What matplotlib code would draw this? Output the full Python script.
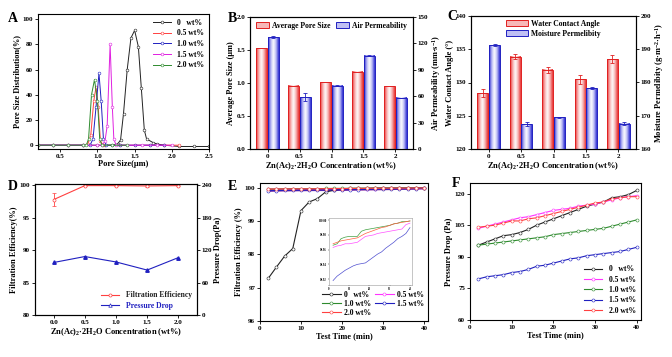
import numpy as np
import matplotlib
matplotlib.use("Agg")
import matplotlib.pyplot as plt
from matplotlib.colors import LinearSegmentedColormap
from matplotlib.patches import Rectangle, Patch

plt.rcParams['font.family'] = ['Liberation Serif', 'DejaVu Serif']
plt.rcParams['font.weight'] = 'bold'
plt.rcParams['axes.labelweight'] = 'bold'
plt.rcParams['font.size'] = 5
plt.rcParams['axes.linewidth'] = 0.8
plt.rcParams['mathtext.default'] = 'regular'

# ---------------- data ----------------
# A: pore size distribution
a0_x = [0.2, 0.4, 0.6, 0.8, 1.0, 1.1, 1.2, 1.27, 1.31, 1.35, 1.4, 1.45, 1.5, 1.55, 1.59, 1.63, 1.66, 1.75, 1.8, 1.9, 2.1, 2.3, 2.5]
a0_y = [0, 0, 0, 0, 0, 0, 0, 1, 4, 25, 60, 85, 91, 78, 45, 12, 5, 2, 1, 0, -1, -1, -1]
a05_x = [0.2, 0.4, 0.6, 0.8, 0.87, 0.91, 0.95, 0.98, 1.01, 1.04, 1.08, 1.3, 1.5, 1.7, 1.9, 2.1]
a05_y = [0, 0, 0, 0, 1, 8, 35, 46, 30, 3, 0, 0, 0, 0, 0, 0]
a10_x = [0.2, 0.4, 0.6, 0.8, 0.9, 0.94, 0.98, 1.02, 1.05, 1.08, 1.12, 1.3, 1.5, 1.7, 1.9]
a10_y = [0, 0, 0, 0, 0, 5, 30, 57, 35, 5, 0, 0, 0, 0, 0]
a15_x = [0.2, 0.4, 0.6, 0.8, 1.0, 1.06, 1.1, 1.13, 1.17, 1.2, 1.22, 1.25, 1.4, 1.6, 1.8, 2.0]
a15_y = [0, 0, 0, 0, 0, 0, 3, 15, 80, 30, 5, 0, 0, 0, 0, 0]
a20_x = [0.2, 0.4, 0.6, 0.8, 0.85, 0.88, 0.92, 0.96, 1.0, 1.03, 1.06, 1.2, 1.4]
a20_y = [0, 0, 0, 0, 0, 5, 40, 52, 35, 5, 0, 0, 0]

# B / C categories
conc_labels = ['0', '0.5', '1', '1.5', '2']
pore_size = [1.53, 0.96, 1.01, 1.17, 0.95]
air_perm = [127, 59, 72, 106, 58]
air_err = [1, 5, 0.8, 0.5, 0.5]
wca = [128.4, 133.9, 131.9, 130.5, 133.5]
wca_err = [0.6, 0.4, 0.4, 0.7, 0.6]
moist = [191.2, 167.5, 169.5, 178.2, 167.6]
moist_err = [0.3, 0.5, 0.2, 0.3, 0.4]

# D
d_x = [0.0, 0.5, 1.0, 1.5, 2.0]
filt_eff = [97.8, 99.95, 99.95, 99.9, 99.95]
filt_err = [1.0, 0.1, 0.1, 0.1, 0.1]
p_drop = [97, 108, 98, 83, 106]

# E / F time
t = [2, 4, 6, 8, 10, 12, 14, 16, 18, 20, 22, 24, 26, 28, 30, 32, 34, 36, 38, 40]
e0 = [97.28, 97.62, 97.95, 98.18, 99.32, 99.58, 99.68, 99.88, 99.93, 99.97, 99.99, 99.99, 99.99, 100.0, 100.0, 100.0, 100.0, 100.0, 100.0, 100.0]
e05 = [99.963, 99.965, 99.966, 99.968, 99.968, 99.969, 99.970, 99.974, 99.978, 99.979, 99.980, 99.982, 99.983, 99.984, 99.985, 99.986, 99.987, 99.988, 99.994, 99.996]
e10 = [99.966, 99.968, 99.975, 99.977, 99.978, 99.978, 99.978, 99.985, 99.987, 99.988, 99.989, 99.990, 99.991, 99.992, 99.993, 99.995, 99.996, 99.998, 99.998, 99.999]
e15 = [99.918, 99.924, 99.928, 99.932, 99.935, 99.938, 99.940, 99.941, 99.942, 99.946, 99.950, 99.954, 99.957, 99.962, 99.966, 99.970, 99.975, 99.978, 99.982, 99.990]
e20 = [99.968, 99.970, 99.972, 99.973, 99.974, 99.975, 99.976, 99.979, 99.982, 99.984, 99.986, 99.988, 99.990, 99.991, 99.993, 99.995, 99.996, 99.997, 99.998, 99.999]

f0 = [95.5, 97, 98.5, 100, 100.5, 101.5, 103, 105, 106.5, 108, 109.5, 111, 112.5, 114, 115, 116, 118, 118.5, 119.5, 121.5]
f05 = [103.5, 104.5, 105.5, 106.5, 107.5, 108.5, 109, 110, 111, 112, 112.5, 113, 114, 114.5, 115, 116, 117, 118, 118.5, 119]
f10 = [95.5, 96, 96.5, 97, 97.5, 98, 98.5, 99, 99.5, 100.5, 101, 101.5, 102, 102.5, 103, 103.5, 104.5, 105.5, 106.5, 107.5]
f15 = [79.5, 80.5, 81, 81.5, 82.5, 83, 84, 85.5, 86, 87, 88, 89, 89.5, 90.5, 91, 91.5, 92, 92.5, 93.5, 94.5]
f20 = [104, 104.5, 105, 106, 107, 107, 108, 108.5, 109.5, 110.5, 111.5, 112.5, 113.5, 114.5, 115.5, 116, 117.5, 118, 118.5, 118.5]

series_labels = ['0   wt%', '0.5 wt%', '1.0 wt%', '1.5 wt%', '2.0 wt%']
c_black, c_mag, c_green, c_blue, c_red = '#222222', '#ff33ff', '#2e8b2e', '#2020c0', '#ff4040'

W, H = 672, 357
fig = plt.figure(figsize=(6.72, 3.57), dpi=100)


def rect(l, t_, r, b):
    return [l / W, 1 - b / H, (r - l) / W, (b - t_) / H]


def style(ax):
    ax.tick_params(direction='out', length=2, width=0.6, labelsize=5, pad=1.5)


xlab_conc = 'Zn(Ac)$_2$·2H$_2$O Concentration (wt%)'

# ---------------- A ----------------
ax = fig.add_axes(rect(38, 14, 209, 149))
mk = dict(marker='o', ms=2, mfc='white', mew=0.4, lw=0.7)
ax.plot(a0_x, a0_y, color=c_black, label=series_labels[0], **mk)
ax.plot(a05_x, a05_y, color=c_red, label=series_labels[1], **mk)
ax.plot(a10_x, a10_y, color=c_blue, label=series_labels[2], **mk)
ax.plot(a15_x, a15_y, color='#e020e0', label=series_labels[3], **mk)
ax.plot(a20_x, a20_y, color=c_green, label=series_labels[4], **mk)
ax.set_xlim(0.2, 2.5)
ax.set_ylim(-3, 104)
ax.set_xticks([0.5, 1.0, 1.5, 2.0, 2.5])
ax.set_yticks([0, 20, 40, 60, 80, 100])
ax.set_xlabel('Pore Size(μm)', fontsize=6, labelpad=1)
ax.set_ylabel('Pore Size Distribution(%)', fontsize=6, labelpad=1)
style(ax)
ax.legend(loc='upper right', frameon=False, fontsize=5.5, handlelength=2.4,
          labelspacing=0.35, borderaxespad=0.2)
fig.text(8 / W, 1 - 18 / H, 'A', fontsize=10, fontweight='bold', va='center')


# gradient bar helper
def gbar(ax, x, h, w, base, cols, edge):
    cmap = LinearSegmentedColormap.from_list('g', cols)
    grad = np.linspace(0, 1, 64)[None, :]
    ax.imshow(grad, extent=[x - w / 2, x + w / 2, base, h], aspect='auto',
              cmap=cmap, zorder=2, interpolation='bicubic')
    ax.add_patch(Rectangle((x - w / 2, base), w, h - base, fill=False,
                           edgecolor=edge, lw=0.7, zorder=3))


red_cols = ['#e83030', '#f7b0b0', '#ffffff', '#f7b0b0', '#e83030']
blue_cols = ['#2828d0', '#b8b8f4', '#ffffff', '#b8b8f4', '#2828d0']
xi = np.arange(len(conc_labels))
bw = 0.34

# ---------------- B ----------------
ax = fig.add_axes(rect(250, 17, 413, 149))
ax2 = ax.twinx()
for i in range(len(xi)):
    gbar(ax, xi[i] - 0.18, pore_size[i], bw, 0, red_cols, '#e02020')
    gbar(ax2, xi[i] + 0.18, air_perm[i], bw, 0, blue_cols, '#2020c0')
ax2.errorbar(xi + 0.18, air_perm, yerr=air_err, fmt='none', ecolor='#2020c0',
             elinewidth=0.6, capsize=1.2, capthick=0.6, zorder=4)
ax.set_xlim(-0.55, 4.55)
ax.set_ylim(0, 2.0)
ax2.set_ylim(0, 150)
ax.set_xticks(xi)
ax.set_xticklabels(conc_labels)
ax.set_yticks([0.0, 0.5, 1.0, 1.5, 2.0])
ax2.set_yticks([0, 30, 60, 90, 120, 150])
ax.set_xlabel(xlab_conc, fontsize=6, labelpad=1)
ax.set_ylabel('Average Pore Size (μm)', fontsize=6, labelpad=1)
ax2.set_ylabel('Air Permeability (mm·s$^{-1}$)', fontsize=6, labelpad=1)
style(ax)
style(ax2)
hb = [Patch(facecolor='#f7b8b8', edgecolor='#e02020', lw=0.7),
      Patch(facecolor='#c0c0f4', edgecolor='#2020c0', lw=0.7)]
ax.legend(hb, ['Average Pore Size', 'Air Permeability'], loc='upper center', ncol=2,
          frameon=False, fontsize=5.5, handlelength=1.6, columnspacing=0.8,
          borderaxespad=0.2, handletextpad=0.4)
fig.text(228 / W, 1 - 18 / H, 'B', fontsize=10, fontweight='bold', va='center')

# ---------------- C ----------------
ax = fig.add_axes(rect(471, 16, 636, 149))
ax2 = ax.twinx()
for i in range(len(xi)):
    gbar(ax, xi[i] - 0.18, wca[i], bw, 120, red_cols, '#e02020')
    gbar(ax2, xi[i] + 0.18, moist[i], bw, 160, blue_cols, '#2020c0')
ax.errorbar(xi - 0.18, wca, yerr=wca_err, fmt='none', ecolor='#e02020',
            elinewidth=0.6, capsize=1.2, capthick=0.6, zorder=4)
ax2.errorbar(xi + 0.18, moist, yerr=moist_err, fmt='none', ecolor='#2020c0',
             elinewidth=0.6, capsize=1.2, capthick=0.6, zorder=4)
ax.set_xlim(-0.55, 4.55)
ax.set_ylim(120, 140)
ax2.set_ylim(160, 200)
ax.set_xticks(xi)
ax.set_xticklabels(conc_labels)
ax.set_yticks([120, 125, 130, 135, 140])
ax2.set_yticks([160, 170, 180, 190, 200])
ax.set_xlabel(xlab_conc, fontsize=6, labelpad=1)
ax.set_ylabel('Water Contact Angle (°)', fontsize=6, labelpad=1)
ax2.set_ylabel('Moisture Permelibity (g·m$^{-2}$·h$^{-1}$)', fontsize=6, labelpad=1)
style(ax)
style(ax2)
ax.legend(hb, ['Water Contact Angle', 'Moisture Permelibity'], loc='upper center', ncol=1,
          frameon=False, fontsize=5.5, handlelength=2.8, borderaxespad=0.1,
          labelspacing=0.25, handletextpad=0.4)
fig.text(447 / W, 1 - 17 / H, 'C', fontsize=10, fontweight='bold', va='center')

# ---------------- D ----------------
ax = fig.add_axes(rect(35, 184, 197, 315))
ax2 = ax.twinx()
ax.errorbar(d_x, filt_eff, yerr=filt_err, color=c_red, marker='o', ms=2.2,
            mfc='white', mew=0.5, lw=0.8, elinewidth=0.6, capsize=1.2,
            capthick=0.6, label='Filtration Efficiency')
ax2.plot(d_x, p_drop, color=c_blue, marker='^', ms=2.5, lw=0.8,
         label='Pressure Drop')
ax.set_xlim(-0.3, 2.3)
ax.set_ylim(80, 100.2)
ax2.set_ylim(0, 242)
ax.set_xticks(d_x)
ax.set_xticklabels(['0.0', '0.5', '1.0', '1.5', '2.0'])
ax.set_yticks([80, 85, 90, 95, 100])
ax2.set_yticks([0, 60, 120, 180, 240])
ax.set_xlabel(xlab_conc, fontsize=6, labelpad=1)
ax.set_ylabel('Filtration Efficiency(%)', fontsize=6, labelpad=1)
ax2.set_ylabel('Pressure Drop(Pa)', fontsize=6, labelpad=1)
style(ax)
style(ax2)
h_open = plt.Line2D([], [], color=c_red, marker='o', ms=2.2, mfc='white', mew=0.5, lw=0.8)
h_tri = plt.Line2D([], [], color=c_blue, marker='^', ms=2.5, mfc='white', mew=0.5, lw=0.8)
leg = ax.legend([h_open, h_tri], ['Filtration Efficiency', 'Pressure Drop'], loc='lower right',
                frameon=False, fontsize=5.5, handlelength=2.4, borderaxespad=0.3,
                labelspacing=0.3)
leg.get_texts()[0].set_color('#222222')
leg.get_texts()[1].set_color(c_blue)
fig.text(8 / W, 1 - 186 / H, 'D', fontsize=10, fontweight='bold', va='center')

# ---------------- E ----------------
ax = fig.add_axes(rect(260, 183, 428, 321))
mk = dict(marker='o', ms=2.2, mfc='white', mew=0.4, lw=0.8)
h0, = ax.plot(t, e0, color=c_black, label=series_labels[0], **mk)
h05, = ax.plot(t, e05, color=c_mag, label=series_labels[1], **mk)
h10, = ax.plot(t, e10, color=c_green, label=series_labels[2], **mk)
h15, = ax.plot(t, e15, color=c_blue, label=series_labels[3], **mk)
h20, = ax.plot(t, e20, color=c_red, label=series_labels[4], **mk)
ax.plot(t, e15, color='#8020a0', lw=1.6, zorder=1)
ax.set_xlim(0, 41)
ax.set_ylim(96, 100.15)
ax.set_xticks([0, 10, 20, 30, 40])
ax.set_yticks([96, 97, 98, 99, 100])
ax.set_xlabel('Test Time (min)', fontsize=6, labelpad=1)
ax.set_ylabel('Filtration Efficiency (%)', fontsize=6, labelpad=1)
style(ax)
ax.legend([h0, h10, h20, h05, h15],
          [series_labels[0], series_labels[2], series_labels[4], series_labels[1], series_labels[3]],
          loc='lower right', ncol=2, frameon=False, fontsize=5.5, handlelength=2.4,
          labelspacing=0.15, columnspacing=0.6, borderaxespad=0.15, handletextpad=0.4)
fig.text(228 / W, 1 - 186 / H, 'E', fontsize=10, fontweight='bold', va='center')

ins = fig.add_axes(rect(329, 218, 412, 285))
ins.plot(t, e10, color='#40a040', lw=0.5)
ins.plot(t, e20, color='#ff6040', lw=0.5)
ins.plot(t, e05, color='#ff50ff', lw=0.5)
ins.plot(t, e15, color='#5050d0', lw=0.5)
ins.set_xlim(0, 41)
ins.set_ylim(99.912, 100.003)
ins.set_xticks([0, 10, 20, 30, 40])
ins.set_yticks([99.92, 99.94, 99.96, 99.98, 100.0])
ins.set_yticklabels(['99.92', '99.94', '99.96', '99.98', '100.00'])
ins.tick_params(labelsize=2.2, length=1, width=0.3, pad=0.5)
for s in ins.spines.values():
    s.set_color('#999999')
    s.set_linewidth(0.4)

# ---------------- F ----------------
ax = fig.add_axes(rect(470, 183, 641, 320))
ax.plot(t, f0, color=c_black, label=series_labels[0], **mk)
ax.plot(t, f05, color=c_mag, label=series_labels[1], **mk)
ax.plot(t, f10, color=c_green, label=series_labels[2], **mk)
ax.plot(t, f15, color=c_blue, label=series_labels[3], **mk)
ax.plot(t, f20, color=c_red, label=series_labels[4], **mk)
ax.set_xlim(0, 41)
ax.set_ylim(60, 125)
ax.set_xticks([0, 10, 20, 30, 40])
ax.set_yticks([60, 75, 90, 105, 120])
ax.set_xlabel('Test Time (min)', fontsize=6, labelpad=1)
ax.set_ylabel('Pressure Drop (Pa)', fontsize=6, labelpad=1)
style(ax)
ax.legend(loc='lower right', frameon=False, fontsize=5.5, handlelength=2.4,
          labelspacing=0.3, borderaxespad=0.3)
fig.text(452 / W, 1 - 184 / H, 'F', fontsize=10, fontweight='bold', va='center')

fig.savefig('out.png', dpi=100)
